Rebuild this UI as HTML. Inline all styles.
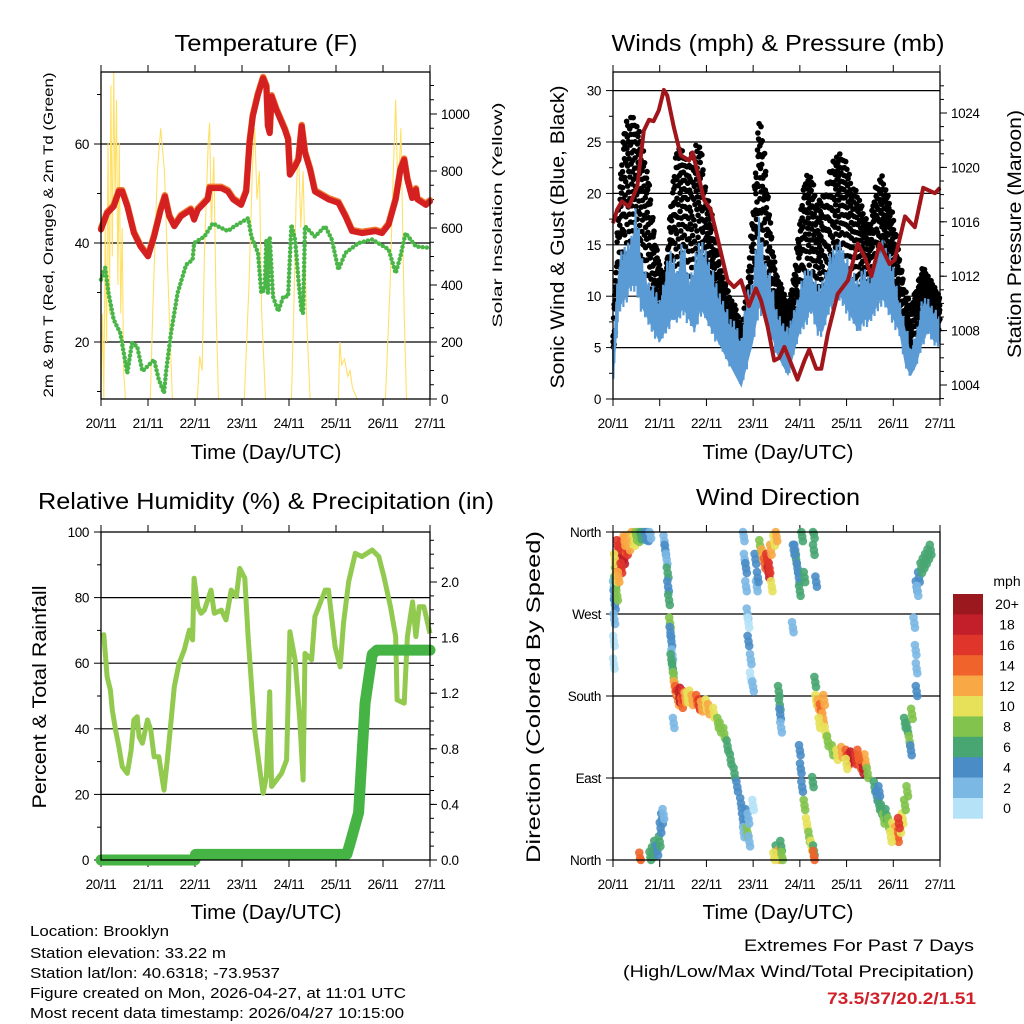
<!DOCTYPE html>
<html><head><meta charset="utf-8"><title>Weather station charts</title>
<style>
html,body{margin:0;padding:0;background:#fff;}
svg{display:block;font-family:"Liberation Sans",sans-serif;}
text{fill:#000;}
</style></head>
<body>
<svg id="c" width="1024" height="1024" viewBox="0 0 1024 1024" xmlns="http://www.w3.org/2000/svg">
<rect width="1024" height="1024" fill="#fff"/>
<text x="266" y="51" font-size="23" text-anchor="middle" textLength="183" lengthAdjust="spacingAndGlyphs">Temperature (F)</text>
<text x="778" y="51" font-size="23" text-anchor="middle" textLength="333" lengthAdjust="spacingAndGlyphs">Winds (mph) &amp; Pressure (mb)</text>
<text x="266" y="509" font-size="23" text-anchor="middle" textLength="456" lengthAdjust="spacingAndGlyphs">Relative Humidity (%) &amp; Precipitation (in)</text>
<text x="778" y="505" font-size="23" text-anchor="middle" textLength="164" lengthAdjust="spacingAndGlyphs">Wind Direction</text>

<text x="266" y="459" font-size="20" text-anchor="middle" textLength="151" lengthAdjust="spacingAndGlyphs">Time (Day/UTC)</text>
<text x="778" y="459" font-size="20" text-anchor="middle" textLength="151" lengthAdjust="spacingAndGlyphs">Time (Day/UTC)</text>
<text x="266" y="919" font-size="20" text-anchor="middle" textLength="151" lengthAdjust="spacingAndGlyphs">Time (Day/UTC)</text>
<text x="778" y="919" font-size="20" text-anchor="middle" textLength="151" lengthAdjust="spacingAndGlyphs">Time (Day/UTC)</text>

<text x="53" y="235" font-size="14" text-anchor="middle" transform="rotate(-90 53 235)" textLength="325" lengthAdjust="spacingAndGlyphs">2m &amp; 9m T (Red, Orange) &amp; 2m Td (Green)</text>
<text x="502" y="215" font-size="14" text-anchor="middle" transform="rotate(-90 502 215)" textLength="225" lengthAdjust="spacingAndGlyphs">Solar Insolation (Yellow)</text>
<text x="564" y="237" font-size="19" text-anchor="middle" transform="rotate(-90 564 237)" textLength="303" lengthAdjust="spacingAndGlyphs">Sonic Wind &amp; Gust (Blue, Black)</text>
<text x="1021" y="234" font-size="19" text-anchor="middle" transform="rotate(-90 1021 234)" textLength="248" lengthAdjust="spacingAndGlyphs">Station Pressure (Maroon)</text>
<text x="46" y="697" font-size="19" text-anchor="middle" transform="rotate(-90 46 697)" textLength="223" lengthAdjust="spacingAndGlyphs">Percent &amp; Total Rainfall</text>
<text x="540" y="697" font-size="19" text-anchor="middle" transform="rotate(-90 540 697)" textLength="332" lengthAdjust="spacingAndGlyphs">Direction (Colored By Speed)</text>

<text x="30" y="936" font-size="15" textLength="139" lengthAdjust="spacingAndGlyphs">Location: Brooklyn</text>
<text x="30" y="958" font-size="15" textLength="196" lengthAdjust="spacingAndGlyphs">Station elevation: 33.22 m</text>
<text x="30" y="978" font-size="15" textLength="250" lengthAdjust="spacingAndGlyphs">Station lat/lon: 40.6318; -73.9537</text>
<text x="30" y="998" font-size="15" textLength="376" lengthAdjust="spacingAndGlyphs">Figure created on Mon, 2026-04-27, at 11:01 UTC</text>
<text x="30" y="1018" font-size="15" textLength="374" lengthAdjust="spacingAndGlyphs">Most recent data timestamp: 2026/04/27 10:15:00</text>
<text x="974" y="951" font-size="17" text-anchor="end" textLength="230" lengthAdjust="spacingAndGlyphs">Extremes For Past 7 Days</text>
<text x="974" y="977" font-size="17" text-anchor="end" textLength="351" lengthAdjust="spacingAndGlyphs">(High/Low/Max Wind/Total Precipitation)</text>
<text x="976" y="1004" font-size="17" font-weight="bold" text-anchor="end" style="fill:#d0202a" textLength="149" lengthAdjust="spacingAndGlyphs">73.5/37/20.2/1.51</text>
<text x="1007" y="586" font-size="14" text-anchor="middle">mph</text>
</svg>
<script>
const dayLabels=['20/11','21/11','22/11','23/11','24/11','25/11','26/11','27/11'];
const tempTicks=[20,40,60];
const solarTicks=[0,200,400,600,800,1000];
const windTicks=[0,5,10,15,20,25,30];
const presTicks=[1004,1008,1012,1016,1020,1024];
const rhTicks=[0,20,40,60,80,100];
const rainTicks=[0.0,0.4,0.8,1.2,1.6,2.0];
const dirTicks=[0,90,180,270,360];
const dirNames=['North','East','South','West','North'];
const speedBins=['0','2','4','6','8','10','12','14','16','18','20+'];
const speedColors=['#b5e2f7','#7cb8e4','#4a8dc6','#48a672','#82c34d','#e7e15a','#f8a845','#f0632a','#e0352b','#c21f2a','#9a181e'];

const tempDays=[0,.13,.27,.38,.45,.56,.70,.84,1.0,1.13,1.27,1.36,1.45,1.56,1.70,1.91,1.98,2.06,2.27,2.31,2.56,2.70,2.81,2.98,3.09,3.16,3.23,3.34,3.45,3.52,3.55,3.59,3.63,3.73,3.91,3.98,4.02,4.13,4.2,4.27,4.34,4.45,4.55,4.84,5.05,5.2,5.34,5.55,5.84,5.98,6.12,6.27,6.37,6.45,6.52,6.62,6.7,6.73,6.91,7.0];
const tempF=[42.7,46,47.4,50.4,50.4,47.4,42,39.3,37.3,41.3,46.7,49.4,45.4,43.4,45.4,46.7,44.7,46.7,48.8,51.1,51.1,50.4,48.8,47.7,50.4,60.2,65.6,70,73.3,71.6,63.6,62.2,69.6,66.9,62.9,60.9,53.8,55.5,56.8,63.6,58.2,54.8,50.4,48.8,48.1,45.4,42.4,42,42.4,42,43.7,48.8,54.8,56.8,52.8,49.1,50.8,48.8,47.7,48.4];
const dewDays=[0,.09,.16,.27,.41,.56,.66,.77,.88,.99,1.13,1.23,1.34,1.38,1.49,1.63,1.81,1.95,1.98,2.2,2.38,2.48,2.7,2.84,3.13,3.2,3.34,3.41,3.48,3.52,3.55,3.59,3.66,3.77,3.88,3.98,4.05,4.13,4.2,4.27,4.3,4.34,4.55,4.77,4.91,5.05,5.2,5.48,5.77,6.12,6.27,6.37,6.48,6.7,7.0];
const dewF=[32.6,35,29.9,24.5,21.8,13.7,19.8,19.1,14.1,15.1,16.4,12.4,9.7,13.7,21.8,29.9,35.6,36.6,40,41.3,44,43.4,42.4,43.4,45,41.3,38,29.9,30.6,40.7,29.9,41.3,29.2,26.2,29.2,29.2,43.7,40.7,32.6,25.9,25.9,43.4,41.3,43.4,40.7,34.6,38,40,40.7,38.7,33.9,37.3,42,39.3,39];
const solarDays=[0,.03,.06,.09,.12,.15,.18,.21,.24,.27,.30,.33,.36,.39,.42,.45,.48,.52,1.05,1.1,1.2,1.27,1.35,1.45,1.52,2.05,2.1,2.15,2.2,2.28,2.31,2.35,2.4,2.45,2.5,3.05,3.15,3.22,3.27,3.32,3.37,3.42,3.5,4.05,4.1,4.15,4.2,4.25,4.3,4.37,4.45,5.05,5.08,5.12,5.18,5.25,5.3,5.35,5.45,6.05,6.15,6.22,6.27,6.32,6.38,6.45,6.5,7.0];
const solarW=[50,300,0,600,200,900,300,1100,500,1150,700,1050,400,900,300,600,100,0,0,300,800,950,800,300,0,0,150,100,500,900,970,600,850,300,0,0,400,800,950,700,800,300,0,0,300,700,900,600,800,300,0,0,200,120,140,80,100,40,0,0,400,800,1050,700,950,300,0,0];

const windDays=[0,.125,.25,.375,.5,.625,.75,.875,1,1.125,1.25,1.375,1.5,1.625,1.75,1.875,2,2.125,2.25,2.375,2.5,2.625,2.75,2.875,3,3.125,3.25,3.375,3.5,3.625,3.75,3.875,4,4.125,4.25,4.375,4.5,4.625,4.75,4.875,5,5.125,5.25,5.375,5.5,5.625,5.75,5.875,6,6.125,6.25,6.375,6.5,6.625,6.75,6.875,7];
const windHi=[6,14,15,16,19,14,12,11,10,13,15,13,16,12,14,16,15,13,11,10,8,8,6,11,12,18,14,12,9,8,7,9,11,13,13,11,12,14,15,16,14,13,12,13,12,14,16,15,13,10,8,5,7,10,10,9,8];
const windLo=[1,8,9,10,10,8,7,6,5,6,7,7,8,7,6,8,7,6,5,4,3,2,1,3,5,8,8,6,4,3,2,4,6,7,8,6,6,8,9,9,8,7,6,7,7,8,9,8,7,6,3,2,3,5,6,5,5];
const gustHi=[7,20,27,28,27,25,22,17,13,12,20,25,24,23,25,25,20,18,14,12,10,9,7,11,19,28,24,17,12,11,9,12,18,22,22,19,20,22,24,24,23,21,20,18,17,21,22,20,18,14,11,9,11,13,12,11,10];
const presDays=[0,.09,.19,.34,.52,.66,.77,.87,.98,1.09,1.16,1.30,1.45,1.63,1.70,1.80,1.95,2.09,2.23,2.45,2.59,2.74,2.91,3.06,3.17,3.31,3.45,3.56,3.67,3.81,3.95,4.10,4.20,4.35,4.46,4.60,4.81,5.03,5.24,5.39,5.53,5.71,5.92,6.03,6.25,6.46,6.64,6.89,7.0];
const presMb=[1015.9,1016.9,1017.5,1017.1,1018.6,1022.7,1023.5,1023.4,1024.2,1025.7,1025.3,1023.0,1020.9,1020.5,1021.1,1019.8,1017.6,1016.9,1014.9,1011.7,1011.2,1011.7,1009.8,1011.1,1010.2,1008.3,1005.8,1006.0,1006.8,1005.6,1004.4,1005.8,1006.6,1005.2,1005.2,1007.8,1010.7,1011.7,1014.4,1013.4,1012.0,1014.4,1012.9,1013.2,1016.4,1015.6,1018.5,1018.1,1018.5];

const rhDays=[0,.06,.13,.2,.24,.31,.38,.45,.56,.64,.7,.77,.81,.88,.99,1.06,1.13,1.23,1.34,1.41,1.56,1.66,1.77,1.88,1.95,1.98,2.06,2.13,2.2,2.34,2.41,2.56,2.66,2.77,2.88,2.95,3.06,3.13,3.27,3.38,3.45,3.52,3.59,3.63,3.84,3.95,4.02,4.13,4.23,4.3,4.34,4.48,4.55,4.77,4.84,4.98,5.09,5.16,5.27,5.41,5.55,5.77,5.91,6.02,6.16,6.27,6.3,6.45,6.52,6.63,6.70,6.77,6.87,7.0];
const rhPct=[68.2,68.7,55.9,51.8,45.7,39.6,34.5,28.5,26.4,33.5,42.7,43.7,37.6,35.6,42.7,39.6,31.5,31.5,21.3,30.5,52.8,59.9,64,70.1,67.1,85.9,77.2,75.2,76.2,82.3,75.2,76.2,73.2,82.3,80.3,88.9,85.9,68.1,39.6,27.4,20.3,25.4,51.3,22.4,26.4,30.5,69.6,61,42.7,24.4,63,61,74.2,82.3,82.3,65,58.9,72.2,84.9,93.5,92.5,94.5,92.5,86.4,77.2,68.1,48.8,47.8,68.1,78.7,68.1,77.2,77.2,69.1];
const rainDays=[0,2.0,2.01,5.23,5.30,5.48,5.62,5.77,5.87,7.0];
const rainIn=[0,0,0.04,0.04,0.12,0.34,1.13,1.48,1.51,1.51];

const dirDays=[0.02,0.03,0.04,0.05,0.06,0.07,0.08,0.10,0.12,0.14,0.16,0.18,0.20,0.22,0.24,0.26,0.28,0.30,0.32,0.35,0.38,0.42,0.46,0.50,0.55,0.60,0.65,0.70,0.75,0.80,0.10,0.15,0.09,0.03,0.02,0.02,0.04,0.18,0.25,0.12,
0.58,0.80,0.85,0.90,0.95,1.00,1.02,1.05,1.08,
1.10,1.12,1.15,1.17,1.18,1.20,1.22,1.23,1.25,1.27,
1.25,1.28,1.30,1.32,1.35,1.38,1.40,1.42,1.45,1.48,1.50,1.55,1.60,1.65,1.70,1.80,1.85,1.90,2.00,2.05,2.16,2.25,2.30,2.38,2.45,2.52,2.60,2.66,2.74,2.78,2.80,1.30,
2.80,2.82,2.85,2.85,2.88,2.90,2.90,2.95,2.95,3.00,2.85,2.88,2.90,2.92,3.00,
3.05,3.08,3.10,3.15,3.20,3.25,3.30,3.33,3.35,3.38,3.40,3.45,3.50,
3.55,3.57,3.58,3.60,
3.90,3.92,3.95,3.98,4.00,3.85,4.05,4.10,3.87,
3.50,3.55,3.60,3.62,3.45,
4.00,4.02,4.05,4.10,4.15,4.20,4.25,4.30,4.30,4.28,
4.30,4.30,4.35,4.33,
4.35,4.40,4.45,4.50,4.55,4.60,4.42,4.52,
4.70,4.80,4.90,5.00,5.05,5.10,5.20,5.30,5.35,5.40,5.45,5.00,5.25,
5.60,5.65,5.70,5.75,5.80,5.85,5.90,6.00,6.05,6.10,6.15,6.20,6.25,6.30,5.70,5.95,6.12,
6.25,6.30,6.35,6.38,6.40,6.45,6.50,6.50,6.48,
6.50,6.55,6.60,6.65,6.70,6.75,6.80,6.52];
const dirDeg=[300,290,280,305,315,320,310,325,330,335,340,338,345,335,330,342,348,340,350,345,352,355,350,356,354,357,358,356,355,358,345,325,290,264,240,215,330,320,350,310,
2,3,8,15,10,20,35,45,50,
350,340,330,315,300,285,260,250,240,225,
220,210,200,190,185,180,175,178,183,172,180,178,178,180,175,175,170,168,170,165,161,150,145,139,125,110,95,80,62,45,30,150,
355,330,300,320,270,260,240,220,200,190,50,30,45,20,60,
330,300,310,345,335,325,330,315,320,340,300,350,355,
185,170,160,145,
340,330,320,310,295,255,355,310,340,
10,5,15,3,2,
120,100,80,60,40,25,15,10,4,85,
358,340,305,195,
175,170,165,155,140,130,150,175,
120,115,118,115,110,113,110,105,100,110,95,105,115,
80,70,60,55,45,50,40,35,30,25,35,45,60,75,75,25,40,
150,145,130,120,160,260,210,185,230,
300,310,320,325,330,335,340,295];
const dirSpd=[3,5,4,6,8,12,11,14,16,15,18,16,17,20,18,15,14,16,13,12,11,12,10,9,8,7,6,5,4,3,17,19,9,2,1,1,10,17,13,13,
15,6,7,6,5,7,5,4,3,
3,4,3,6,5,7,8,5,4,3,
6,7,9,12,14,16,13,19,18,14,16,12,10,11,12,14,17,12,11,13,10,9,9,8,7,6,6,5,4,4,3,3,
2,3,2,4,3,1,4,2,1,3,4,8,3,2,1,
4,3,5,8,12,15,17,18,16,12,10,11,13,
6,7,4,3,
5,6,5,4,6,2,7,6,5,
6,12,7,9,10,
4,4,5,8,10,9,11,6,15,6,
6,7,5,6,
10,12,14,12,10,8,11,13,
8,10,12,14,16,18,16,14,18,12,8,11,15,
6,5,7,6,8,7,9,10,12,14,11,10,9,8,4,10,16,
6,7,8,5,9,2,2,4,3,
4,5,6,7,6,7,6,3];

const NS='http://www.w3.org/2000/svg';
const svg=document.getElementById('c');
function mk(tag,attrs,parent){const e=document.createElementNS(NS,tag);for(const k in attrs)e.setAttribute(k,attrs[k]);(parent||svg).appendChild(e);return e;}
function grp(name){const g=mk('g',{});return g;}
function lin(d0,d1,r0,r1){return v=>r0+(v-d0)*(r1-r0)/(d1-d0);}
function interp(xs,ys,t){if(t<=xs[0])return ys[0];for(let i=1;i<xs.length;i++){if(t<=xs[i]){const f=(t-xs[i-1])/(xs[i]-xs[i-1]);return ys[i-1]+f*(ys[i]-ys[i-1]);}}return ys[ys.length-1];}
function pts(xs,ys,sx,sy){return xs.map((x,i)=>sx(x).toFixed(1)+','+sy(ys[i]).toFixed(1)).join(' ');}
function gold(n){return (n*0.6180339887)%1;}

const P1={x0:101,x1:430,y0:72,y1:399}, P2={x0:613,x1:940,y0:72,y1:399}, P3={x0:101,x1:430,y0:532,y1:860}, P4={x0:613,x1:940,y0:532,y1:860};
const TF={'font-size':13.5,'letter-spacing':'-0.4'};

function frame(P,name,topTicks){
  const g=grp(name+'-axes');
  const sx=lin(0,7,P.x0,P.x1);
  dayLabels.forEach((lab,i)=>{
    const x=sx(i);
    const t=mk('line',{x1:x,x2:x,y1:P.y1,y2:P.y1+7,stroke:'#000','stroke-width':1},g);
    
    
    if(topTicks){const tt=mk('line',{x1:x,x2:x,y1:P.y0,y2:P.y0-7,stroke:'#000','stroke-width':1},g);
      
      }
    const tx=mk('text',Object.assign({x:x,y:P.y1+29,'text-anchor':'middle'},TF),g);
    tx.textContent=lab;
    
    
  });
  return sx;
}
function leftAxis(P,name,ticks,sy,labels,minor,grid){
  const g=grp(name+'-left-axis');
  if(minor)minor.forEach(v=>{const y=sy(v);mk('line',{x1:P.x0,x2:P.x0-4,y1:y,y2:y,stroke:'#000'},g);});
  ticks.forEach((v,i)=>{
    const y=sy(v);
    if(grid&&y>P.y0+1&&y<P.y1-1){const gl=mk('line',{x1:P.x0,x2:P.x1,y1:y,y2:y,stroke:'#000','stroke-width':1.2},g);
      
      }
    mk('line',{x1:P.x0,x2:P.x0-7,y1:y,y2:y,stroke:'#000'},g);
    const t=mk('text',Object.assign({x:P.x0-12,y:y+5,'text-anchor':'end'},TF),g);
    t.textContent=labels?labels[i]:String(v);
    
    
  });
}
function rightAxis(P,name,ticks,sy,fmt,minor){
  const g=grp(name+'-right-axis');
  if(minor)minor.forEach(v=>{const y=sy(v);if(y>=P.y0-0.5&&y<=P.y1+0.5)mk('line',{x1:P.x1,x2:P.x1+4,y1:y,y2:y,stroke:'#000'},g);});
  ticks.forEach(v=>{
    const y=sy(v);
    mk('line',{x1:P.x1,x2:P.x1+7,y1:y,y2:y,stroke:'#000'},g);
    const t=mk('text',Object.assign({x:P.x1+11,y:y+5},TF),g);
    t.textContent=fmt(v);
    
    
  });
}
function box(P,name){const b=mk('rect',{x:P.x0,y:P.y0,width:P.x1-P.x0,height:P.y1-P.y0,fill:'none',stroke:'#000','stroke-width':1.3});
  
  }
function range(a,b,s){const r=[];for(let v=a;v<=b+1e-9;v+=s)r.push(+v.toFixed(3));return r;}

// ---------- Panel 1: temperature ----------
(function(){
  const sx=frame(P1,'temp',true);
  const sy=lin(40,60,243,144);
  const sw=lin(0,1000,399,114);
  leftAxis(P1,'temp',tempTicks,sy,null,[10,30,50,70],true);
  rightAxis(P1,'solar',solarTicks,sw,v=>String(v),range(0,1150,50));
  const g=grp('temp-series');
  const so=mk('polyline',{points:pts(solarDays,solarW,sx,sw),fill:'none',stroke:'#ffe066','stroke-width':1.1},g);
  
  
  const dw=mk('polyline',{points:pts(dewDays,dewF,sx,sy),fill:'none',stroke:'#4bb648','stroke-width':4.5,'stroke-dasharray':'0 4.2','stroke-linecap':'round','stroke-linejoin':'round'},g);
  
  
  const t9=mk('polyline',{points:pts(tempDays,tempF,sx,v=>sy(v)-1.2),fill:'none',stroke:'#f07a30','stroke-width':6.5,'stroke-linejoin':'round','stroke-linecap':'round'},g);
  
  
  const t2=mk('polyline',{points:pts(tempDays,tempF,sx,sy),fill:'none',stroke:'#d42020','stroke-width':6,'stroke-linejoin':'round','stroke-linecap':'round'},g);
  
  
  box(P1,'temp');
})();

// ---------- Panel 2: winds & pressure ----------
(function(){
  const sx=frame(P2,'wind',true);
  const sy=lin(0,30,399,90.6);
  const sp=lin(1004,1024,385,113);
  leftAxis(P2,'wind',windTicks,sy,null,range(2.5,30,5),true);
  rightAxis(P2,'pressure',presTicks,sp,v=>String(v),range(1003,1026,1));
  const gg=grp('gust-points');
  const SUB=8;let n=1;
  for(let i=0;i<windDays.length-1;i++){
    const dt=windDays[i+1]-windDays[i];
    for(let j=0;j<SUB;j++){
      for(let k=0;k<4;k++){
        const t=windDays[i]+dt*(j+gold(n*7+3))/SUB;
        const hi=interp(windDays,gustHi,t), lo=interp(windDays,windLo,t), wh=interp(windDays,windHi,t);
        const base=lo+(wh-lo)*0.4;
        const f=Math.pow(gold(n),0.7);n++;
        const c=mk('circle',{cx:sx(t).toFixed(1),cy:sy(base+(hi-base)*f).toFixed(1),r:2.8,fill:'#000'},gg);
        
        
      }
    }
  }
  const gb=grp('wind-speed-series');
  const top=windDays.map((d,i)=>sx(d).toFixed(1)+','+sy(windHi[i]*0.8+windLo[i]*0.2).toFixed(1));
  const bot=windDays.map((d,i)=>sx(d).toFixed(1)+','+sy(windLo[i]*1.1).toFixed(1)).reverse();
  const band=mk('polygon',{points:top.concat(bot).join(' '),fill:'#5b9bd5'},gb);
  
  
  const zz=[];let m=1;
  for(let i=0;i<windDays.length-1;i++){
    for(let j=0;j<14;j++){
      const t=windDays[i]+(windDays[i+1]-windDays[i])*j/14;
      const lo=interp(windDays,windLo,t),hi=interp(windDays,windHi,t);
      const f=(m%2)?0.55+0.45*gold(m):0.4*gold(m);m++;
      zz.push(sx(t).toFixed(1)+','+sy(lo+(hi-lo)*f).toFixed(1));
    }
  }
  const wl=mk('polyline',{points:zz.join(' '),fill:'none',stroke:'#5b9bd5','stroke-width':2.2},gb);
  
  
  const pl=mk('polyline',{points:pts(presDays,presMb,sx,sp),fill:'none',stroke:'#a0161b','stroke-width':4,'stroke-linejoin':'round'});
  
  
  box(P2,'wind');
})();

// ---------- Panel 3: humidity & rain ----------
(function(){
  const sx=frame(P3,'humidity',true);
  const sy=lin(0,100,860,532);
  const sr=lin(0,0.4,860,804.4);
  leftAxis(P3,'humidity',rhTicks,sy,null,range(10,90,20),true);
  rightAxis(P3,'rain',rainTicks,sr,v=>v.toFixed(1),range(0,2.3,0.1));
  const rh=mk('polyline',{points:pts(rhDays,rhPct,sx,sy),fill:'none',stroke:'#92c94f','stroke-width':5,'stroke-linejoin':'round'});
  
  
  const rn=mk('polyline',{points:pts(rainDays,rainIn,sx,sr),fill:'none',stroke:'#46b445','stroke-width':11,'stroke-linejoin':'round','stroke-linecap':'round'});
  
  
  box(P3,'humidity');
})();

// ---------- Panel 4: wind direction ----------
(function(){
  const sx=frame(P4,'direction',true);
  const sy=lin(0,360,860,532);
  leftAxis(P4,'direction',dirTicks,sy,dirNames,null,true);
  const g=grp('direction-points');
  const off=[[0,0],[-0.018,6],[0.015,-5]];
  dirDays.forEach((d,i)=>{
    const b=Math.min(10,Math.floor(dirSpd[i]/2));
    off.forEach(o=>{
      const deg=Math.max(0,Math.min(360,dirDeg[i]+o[1]));
      const c=mk('circle',{cx:sx(Math.max(0,d+o[0])).toFixed(1),cy:sy(deg).toFixed(1),r:4.3,fill:speedColors[b],'fill-opacity':0.9},g);
      
      
    });
  });
  box(P4,'direction');
  const cb=grp('speed-colorbar');
  const cy0=594,ch=20.4;
  for(let k=0;k<speedBins.length;k++){
    const idx=speedBins.length-1-k;
    const r=mk('rect',{x:953,y:(cy0+k*ch).toFixed(1),width:30,height:ch+0.3,fill:speedColors[idx]},cb);
    
    
    const t=mk('text',{x:1007,y:(cy0+k*ch+ch/2+5).toFixed(1),'font-size':14,'text-anchor':'middle'},cb);
    t.textContent=speedBins[idx];
    
    
  }
})();
</script>
</body></html>
